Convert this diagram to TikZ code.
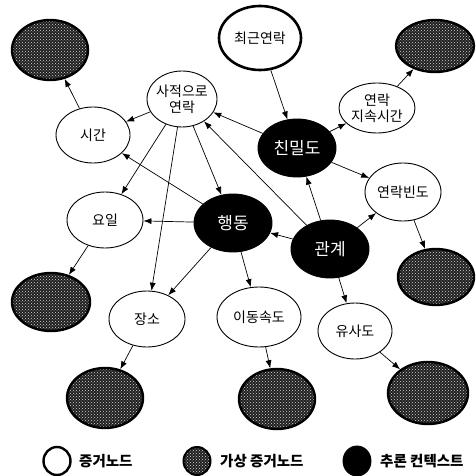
\documentclass[tikz,border=0pt]{standalone}
\usepackage{fontspec}
\newfontfamily\kr{Noto Sans CJK KR}
\usetikzlibrary{shapes.geometric,arrows.meta,patterns}
\tikzset{
  base/.style={ellipse, inner sep=0pt, draw=black},
  ev/.style={base, line width=0.9pt, fill=white},
  evthick/.style={base, line width=2.6pt, fill=white},
  vir/.style={base, line width=2.4pt, preaction={fill=black!88}, preaction={pattern=crosshatch dots, pattern color=white!85!black}},
  inf/.style={base, line width=0.9pt, fill=black},
  lab/.style={font=\kr\fontsize{14}{16}\selectfont, text=black, align=center, inner sep=0pt},
  labw/.style={font=\kr\fontsize{17}{19}\selectfont, text=white, inner sep=0pt},
  txt/.style={label={[lab]center:#1}},
  txtw/.style={label={[labw]center:#1}},
  sz/.style 2 args={minimum width=#1pt, minimum height=#2pt},
  arr/.style={-{Latex[length=8pt,width=6pt]}, line width=0.7pt},
  legtxt/.style={font=\kr\bfseries\fontsize{14.5}{16}\selectfont, anchor=west, inner sep=0pt}
}
\begin{document}
\begin{tikzpicture}[x=1pt,y=-1pt]
\useasboundingbox[fill=white] (0,0) rectangle (476,476);
% nodes
\node[vir, sz={76}{60}] (sh1) at (50,50) {};
\node[ev, sz={70}{56}, label={[lab]center:사적으로\\연락}] (sajeok) at (182,99) {};
\node[ev, sz={74}{56}, txt=시간] (sigan) at (93,135) {};
\node[ev, sz={76}{56}, txt=요일] (yoil) at (105,220) {};
\node[inf, sz={78}{58}, txtw=행동] (haengdong) at (233,223) {};
\node[inf, sz={78}{58}, txtw=관계] (gwangye) at (330,249) {};
\node[inf, sz={78}{58}, txtw=친밀도] (chinmil) at (297,148) {};
\node[evthick, sz={82}{64}, txt=최근연락] (choegeun) at (260,38) {};
\node[ev, sz={76}{50}, label={[lab]center:연락\\지속시간}] (jisok) at (377,108) {};
\node[vir, sz={78}{52}] (sh2) at (435,46) {};
\node[ev, sz={76}{58}, txt=연락빈도] (binto) at (403,192) {};
\node[vir, sz={76}{56}] (sh3) at (436,277) {};
\node[ev, sz={74}{56}, txt=유사도] (yusa) at (355,331) {};
\node[vir, sz={80}{62}] (sh4) at (428,393) {};
\node[ev, sz={84}{60}, txt=이동속도] (idong) at (259,317) {};
\node[ev, sz={76}{56}, txt=장소] (jangso) at (147,319) {};
\node[vir, sz={78}{58}] (sh5) at (51,302) {};
\node[vir, sz={76}{60}] (sh6) at (105,398) {};
\node[vir, sz={76}{60}] (sh7) at (277,399) {};
% edges
\draw[arr] (sigan) -- (sh1);
\draw[arr] (sajeok) -- (sigan);
\draw[arr] (sajeok) -- (yoil);
\draw[arr] (sajeok) -- (jangso);
\draw[arr] (sajeok) -- (haengdong);
\draw[arr] (haengdong) -- (sigan);
\draw[arr] (haengdong) -- (yoil);
\draw[arr] (haengdong) -- (jangso);
\draw[arr] (haengdong) -- (idong);
\draw[arr] (gwangye) -- (haengdong);
\draw[arr] (gwangye) -- (sajeok);
\draw[arr] (chinmil) -- (sajeok);
\draw[arr] (choegeun) -- (chinmil);
\draw[arr] (chinmil) -- (jisok);
\draw[arr] (jisok) -- (sh2);
\draw[arr] (chinmil) -- (binto);
\draw[arr] (gwangye) -- (chinmil);
\draw[arr] (gwangye) -- (binto);
\draw[arr] (binto) -- (sh3);
\draw[arr] (gwangye) -- (yusa);
\draw[arr] (yusa) -- (sh4);
\draw[arr] (idong) -- (sh7);
\draw[arr] (jangso) -- (sh6);
\draw[arr] (yoil) -- (sh5);
% legend
\node[evthick, line width=2.4pt, sz={27}{28}] (leg1) at (57,461) {};
\node[legtxt] (legt1) at (79,461) {증거노드};
\node[vir, line width=2pt, sz={27}{28}] (leg2) at (197,461) {};
\node[legtxt] (legt2) at (220,461) {가상 증거노드};
\node[inf, sz={28}{30}] (leg3) at (357,461) {};
\node[legtxt] (legt3) at (380,461) {추론 컨텍스트};
\end{tikzpicture}
\end{document}
